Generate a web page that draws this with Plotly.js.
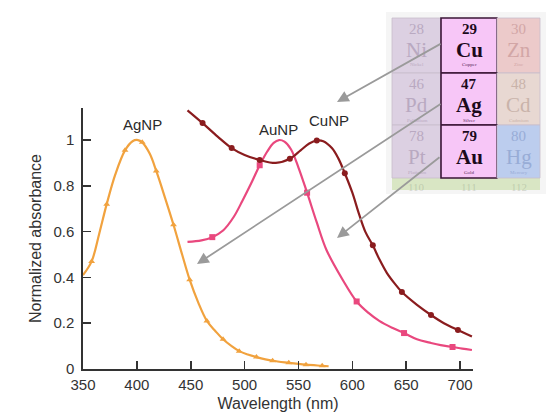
<!DOCTYPE html>
<html>
<head>
<meta charset="utf-8">
<script src="https://cdn.plot.ly/plotly-3.0.1.min.js"></script>
<style>html,body{margin:0;padding:0;background:#fff;}#chart{width:547px;height:417px;}</style>
</head>
<body>
<div id="chart"></div>
<script>
// ---- Data ----
// AgNP (orange) curve and its triangle markers
const agCurveX = [350, 358, 365, 372, 380, 389, 396, 401, 405, 412, 418, 426, 434, 442, 449, 457, 465, 473, 480, 488, 495, 503, 511, 526, 541, 557, 572, 578];
const agCurveY = [0.41, 0.47, 0.59, 0.72, 0.85, 0.955, 0.995, 1.0, 0.99, 0.94, 0.865, 0.75, 0.63, 0.50, 0.39, 0.29, 0.21, 0.165, 0.13, 0.10, 0.078, 0.063, 0.052, 0.036, 0.027, 0.019, 0.014, 0.012];
const agMarkX = [358, 372, 389, 405, 418, 434, 449, 465, 480, 495, 511, 526, 541, 557, 572];
const agMarkY = [0.47, 0.72, 0.955, 0.99, 0.865, 0.63, 0.39, 0.21, 0.13, 0.078, 0.052, 0.036, 0.027, 0.019, 0.014];

// AuNP (pink) curve and its square markers
const auCurveX = [447, 460, 470, 480, 490, 498, 506, 514, 521, 527, 532, 537, 543, 550, 558, 567, 576, 591, 604, 615, 625, 637, 648, 660, 672, 682, 693, 702, 711];
const auCurveY = [0.555, 0.562, 0.576, 0.605, 0.665, 0.735, 0.81, 0.89, 0.95, 0.988, 1.0, 0.993, 0.96, 0.88, 0.77, 0.64, 0.52, 0.39, 0.295, 0.245, 0.21, 0.18, 0.157, 0.13, 0.115, 0.104, 0.096, 0.089, 0.083];
const auMarkX = [470, 514, 558, 604, 648, 693];
const auMarkY = [0.576, 0.89, 0.77, 0.295, 0.157, 0.096];

// CuNP (dark red) curve and its circle markers
const cuCurveX = [447, 461, 475, 488, 500, 514, 529, 542, 552, 560, 567, 573, 581, 587, 593, 600, 606, 612, 619, 625, 632, 639, 646, 660, 673, 685, 698, 711];
const cuCurveY = [1.13, 1.074, 1.015, 0.965, 0.935, 0.913, 0.90, 0.918, 0.955, 0.985, 0.998, 0.995, 0.965, 0.92, 0.855, 0.77, 0.68, 0.60, 0.54, 0.48, 0.42, 0.375, 0.336, 0.28, 0.236, 0.20, 0.17, 0.142];
const cuMarkX = [461, 488, 514, 542, 567, 593, 619, 646, 673, 698];
const cuMarkY = [1.074, 0.965, 0.913, 0.918, 0.998, 0.855, 0.54, 0.336, 0.236, 0.17];

// Axis ticks
const xTicks = [350, 400, 450, 500, 550, 600, 650, 700];
const yTicks = [0, 0.2, 0.4, 0.6, 0.8, 1];
const yTickText = ['0', '0.2', '0.4', '0.6', '0.8', '1'];

// Series labels
const seriesNames = ['AgNP', 'AuNP', 'CuNP'];
const labelX = [405.5, 531, 578];
const labelY = [1.07, 1.048, 1.085];

// Periodic table fragment (rows x columns)
const ptNumbers = [['28', '29', '30'], ['46', '47', '48'], ['78', '79', '80']];
const ptSymbols = [['Ni', 'Cu', 'Zn'], ['Pd', 'Ag', 'Cd'], ['Pt', 'Au', 'Hg']];
const ptNames = [['Nickel', 'Copper', 'Zinc'], ['Palladium', 'Silver', 'Cadmium'], ['Platinum', 'Gold', 'Mercury']];
const ptNextRow = ['110', '111', '112'];

// ---- Styling ----
const cOrange = '#f1a23e', cPink = '#e9487e', cDark = '#8a1c1e';
const font = 'Liberation Sans, Arial, Helvetica, sans-serif';
const serif = 'Liberation Serif, Times New Roman, serif';

// plot area in pixels (for decorative overlay placement)
const L = 83, R = 473, T = 108, B = 369;
const px = x => (x - L) / (R - L);
const py = y => (B - y) / (B - T);

function lineTrace(x, y, c) {
  return {x: x, y: y, mode: 'lines', line: {color: c, width: 2.2, shape: 'spline', smoothing: 1}, hoverinfo: 'skip'};
}
function markTrace(x, y, c, sym, size) {
  return {x: x, y: y, mode: 'markers', marker: {color: c, symbol: sym, size: size}, hoverinfo: 'skip'};
}

const data = [
  lineTrace(agCurveX, agCurveY, cOrange),
  markTrace(agMarkX, agMarkY, cOrange, 'triangle-up', 6),
  lineTrace(auCurveX, auCurveY, cPink),
  markTrace(auMarkX, auMarkY, cPink, 'square', 6),
  lineTrace(cuCurveX, cuCurveY, cDark),
  markTrace(cuMarkX, cuMarkY, cDark, 'circle', 6)
];

const shapes = [];
const annotations = [];

seriesNames.forEach((n, i) => {
  annotations.push({x: labelX[i], y: labelY[i], xref: 'x', yref: 'y', text: n, showarrow: false,
    xanchor: 'center', yanchor: 'middle', font: {family: font, size: 15, color: '#2a2a2a'}});
});

// periodic table geometry (pixels)
const colE = [392, 441, 497, 540];
const rowE = [18, 73, 125, 178];
const fills = [['#dcd0e2', '#f7c6f7', '#eccaca'], ['#dcd0e2', '#f7c6f7', '#e8d8d2'], ['#dcd0e2', '#f7c6f7', '#bccdee']];
const txtCol = [['#b9a9c1', '#1c0a1c', '#d2a6a6'], ['#b9a9c1', '#1c0a1c', '#c9b3aa'], ['#b9a9c1', '#1c0a1c', '#98acd6']];

function txt(xp, yp, t, size, color, fam) {
  annotations.push({xref: 'paper', yref: 'paper', x: px(xp), y: py(yp), text: t, showarrow: false,
    xanchor: 'center', yanchor: 'middle', font: {family: fam, size: size, color: color}});
}

// soft backdrop
shapes.push({type: 'rect', xref: 'paper', yref: 'paper', x0: px(386), x1: px(546), y0: py(194), y1: py(12),
  fillcolor: 'rgba(236,236,236,0.55)', line: {width: 0}, layer: 'above'});
// bottom partial row (green)
shapes.push({type: 'rect', xref: 'paper', yref: 'paper', x0: px(colE[0]), x1: px(colE[3]), y0: py(190), y1: py(rowE[3]),
  fillcolor: '#d9e6c4', line: {width: 0}, layer: 'above'});
for (let r = 0; r < 3; r++) {
  for (let c = 0; c < 3; c++) {
    const isMid = c === 1;
    shapes.push({type: 'rect', xref: 'paper', yref: 'paper',
      x0: px(colE[c]), x1: px(colE[c + 1]), y0: py(rowE[r + 1]), y1: py(rowE[r]),
      fillcolor: fills[r][c], line: {width: isMid ? 1.6 : 0.8, color: isMid ? '#3a1436' : '#c8bccc'}, layer: 'above'});
    const cx = (colE[c] + colE[c + 1]) / 2;
    const top = rowE[r];
    txt(cx, top + 11, isMid ? '<b>' + ptNumbers[r][c] + '</b>' : ptNumbers[r][c], 15, txtCol[r][c], serif);
    txt(cx, top + 32, isMid ? '<b>' + ptSymbols[r][c] + '</b>' : ptSymbols[r][c], 21, txtCol[r][c], serif);
    txt(cx, top + 47, ptNames[r][c], 5, isMid ? '#5a2a5a' : txtCol[r][c], serif);
  }
}
// faint numbers peeking from the next row
ptNextRow.forEach((t, c) => {
  txt((colE[c] + colE[c + 1]) / 2, 187, t, 11, 'rgba(140,150,130,0.35)', serif);
});

// grey arrows from the elements to their curves
const arrows = [
  {hx: 337, hy: 102, tx: 442, ty: 43},
  {hx: 197, hy: 264, tx: 442, ty: 103},
  {hx: 337, hy: 238, tx: 441, ty: 156}
];
arrows.forEach(a => {
  annotations.push({xref: 'paper', yref: 'paper', x: px(a.hx), y: py(a.hy), axref: 'pixel', ayref: 'pixel',
    ax: a.tx - a.hx, ay: a.ty - a.hy, text: '', showarrow: true, arrowhead: 2, arrowsize: 1.3, arrowwidth: 1.8,
    arrowcolor: '#9a9a9a', standoff: 0, startstandoff: 0});
});

const axisCommon = {
  showline: true, linecolor: '#333', linewidth: 1.6, ticks: 'inside', ticklen: 8, tickwidth: 1.6, tickcolor: '#333',
  showgrid: false, zeroline: false, tickfont: {family: font, size: 15, color: '#333'}
};

const layout = {
  width: 547, height: 417,
  margin: {l: L, r: 547 - R, t: T, b: 417 - B, pad: 0},
  paper_bgcolor: '#fff', plot_bgcolor: '#fff',
  showlegend: false,
  xaxis: Object.assign({}, axisCommon, {range: [350, 712], tickvals: xTicks, ticktext: xTicks.map(String),
    ticklabelstandoff: 1,
    title: {text: 'Wavelength (nm)', font: {family: font, size: 16, color: '#333'}, standoff: 6}}),
  yaxis: Object.assign({}, axisCommon, {range: [0, 1.14], tickvals: yTicks, ticktext: yTickText,
    ticklabelstandoff: 4,
    title: {text: 'Normalized absorbance', font: {family: font, size: 16, color: '#333'}, standoff: 8}}),
  shapes: shapes,
  annotations: annotations
};

Plotly.newPlot('chart', data, layout, {displayModeBar: false, staticPlot: true});
</script>
</body>
</html>
